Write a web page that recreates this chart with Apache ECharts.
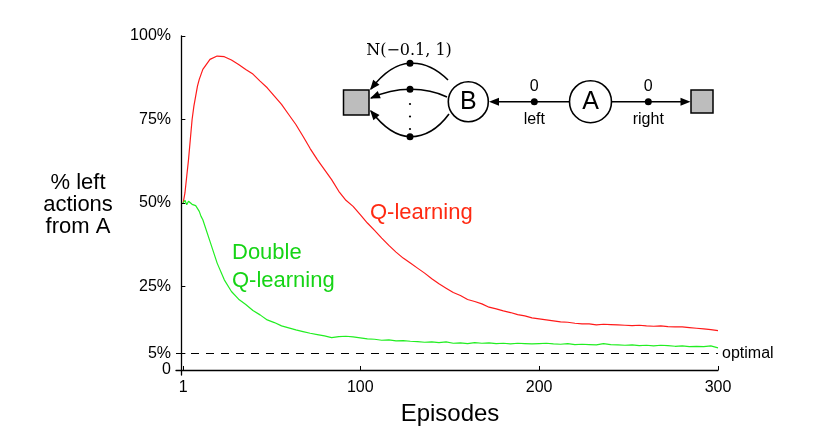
<!DOCTYPE html>
<html>
<head>
<meta charset="utf-8">
<script src="https://cdn.jsdelivr.net/npm/echarts@6/dist/echarts.min.js"></script>
<style>
  html, body { margin: 0; padding: 0; background: #fff; }
  #chart { width: 818px; height: 441px; }
</style>
</head>
<body>
<div id="chart"></div>
<script>
const episodes = [1, 2, 3, 4, 5, 6, 7, 8, 9, 10, 11, 12,
  16, 20, 24, 28, 32, 36, 40, 44, 48, 52, 56, 60, 64, 68, 72, 76, 80, 84, 88, 92, 96, 100,
  104, 108, 112, 116, 120, 124, 128, 132, 136, 140, 144, 148, 152, 156, 160, 164, 168, 172, 176, 180,
  184, 188, 192, 196, 200, 204, 208, 212, 216, 220, 224, 228, 232, 236, 240, 244, 248, 252, 256, 260,
  264, 268, 272, 276, 280, 284, 288, 292, 296, 300]

// % left actions from A
const qLearning = [50, 53, 58, 63, 69, 75, 79, 82, 85, 87, 88.5, 90,
  93, 94, 93.8, 92.8, 91.5, 90, 88.6, 86.5, 84.5, 82, 79.5, 76.5, 73.5, 70, 66.3, 63, 60, 57, 53.5, 50.8, 49, 46.5,
  44, 41.8, 39.5, 37.3, 35.3, 33.5, 32, 30.5, 29, 27.3, 25.8, 24.5, 23.2, 22.3, 21.1, 20.5, 19.8, 18.8, 18.3, 17.7,
  17.2, 16.6, 16.2, 15.6, 15.3, 15.0, 14.7, 14.4, 14.3, 14.0, 13.8, 13.8, 13.5, 13.7, 13.6, 13.5, 13.4, 13.3, 13.4, 13.2,
  13.1, 13.2, 13.0, 12.9, 12.9, 12.7, 12.5, 12.3, 12.1, 11.8]

const doubleQ = [50, 50.8, 49.5, 50.5, 50, 49.6, 49.3, 49.2, 48.8, 47.5, 46, 45,
  38.5, 32, 27, 23.5, 21.2, 19.6, 17.8, 16.5, 15, 14.2, 13.2, 12.6, 12, 11.5, 11, 10.6, 10.2, 9.7, 10, 10.1, 9.9, 9.6,
  9.3, 9.2, 8.9, 9.0, 8.7, 8.8, 8.6, 8.5, 8.3, 8.4, 8.2, 8.4, 8.0, 8.1, 7.9, 8.2, 8.0, 8.1, 7.9, 8.0,
  7.8, 8.0, 7.9, 7.8, 7.9, 8.0, 7.8, 7.7, 7.9, 7.6, 7.7, 7.6, 7.5, 7.9, 7.6, 7.5, 7.4, 7.5, 7.3, 7.4,
  7.2, 7.4, 7.3, 7.1, 7.2, 7.0, 7.1, 7.0, 7.2, 6.6]

const optimal = 5
const xTicks = [1, 100, 200, 300]
const yTicks = [0, 5, 25, 50, 75, 100]

const chart = echarts.init(document.getElementById('chart'))
const font = 'Liberation Sans, Arial, Helvetica, sans-serif'

// small filled arrow head pointing from (fx,fy) to (tx,ty)
function arrowHead(tx, ty, fx, fy) {
  const dx = tx - fx, dy = ty - fy
  const len = Math.sqrt(dx * dx + dy * dy)
  const ux = dx / len, uy = dy / len
  const bx = tx - ux * 10, by = ty - uy * 10
  return {
    type: 'polygon', z: 100,
    shape: { points: [[tx, ty], [bx - uy * 4, by + ux * 4], [bx + uy * 4, by - ux * 4]] },
    style: { fill: '#000' }
  }
}
function dot(x, y, r) {
  return { type: 'circle', z: 100, shape: { cx: x, cy: y, r: r || 3.5 }, style: { fill: '#000' } }
}
function curve(x1, y1, cx, cy, x2, y2) {
  return {
    type: 'bezierCurve', z: 100,
    shape: { x1: x1, y1: y1, cpx1: cx, cpy1: cy, x2: x2, y2: y2 },
    style: { stroke: '#000', lineWidth: 1.6, fill: null }
  }
}
function label(text, x, y, size, color, fam) {
  return {
    type: 'text', z: 100, x: x, y: y,
    style: { text: text, fill: color || '#000', font: size + 'px ' + (fam || font), align: 'center', verticalAlign: 'middle' }
  }
}

// the little MDP diagram
const diagram = [
  // B -> terminal, three of the many actions
  curve(448, 80, 430, 62, 410, 63.3), curve(410, 63.3, 390, 64, 371, 89), arrowHead(370, 90, 388, 68),
  curve(447, 97, 430, 89, 410, 89.3), curve(410, 89.3, 390, 89.5, 371, 98), arrowHead(370, 98.5, 388, 91),
  curve(449, 114, 432, 137, 410, 136.7), curve(410, 136.7, 390, 136, 371, 111), arrowHead(370, 110, 387, 130),
  dot(410, 63.3), dot(410, 89.3), dot(410, 136.7),
  dot(410, 104, 1.1), dot(410, 116.5, 1.1), dot(410, 129, 1.1),
  { type: 'rect', z: 100, shape: { x: 343.5, y: 90, width: 25.5, height: 25 }, style: { fill: '#bdbdbd', stroke: '#000', lineWidth: 1.5 } },
  { type: 'rect', z: 100, shape: { x: 691, y: 90, width: 22, height: 23 }, style: { fill: '#bdbdbd', stroke: '#000', lineWidth: 1.5 } },
  // A -> B (left), A -> terminal (right)
  { type: 'line', z: 100, shape: { x1: 569, y1: 101.7, x2: 495, y2: 101.7 }, style: { stroke: '#000', lineWidth: 1.6 } },
  arrowHead(489, 101.7, 520, 101.7),
  { type: 'line', z: 100, shape: { x1: 612, y1: 101.7, x2: 684, y2: 101.7 }, style: { stroke: '#000', lineWidth: 1.6 } },
  arrowHead(690.5, 101.7, 660, 101.7),
  dot(534.3, 101.7), dot(648.3, 101.7),
  { type: 'circle', z: 100, shape: { cx: 468.3, cy: 101.7, r: 20 }, style: { fill: '#fff', stroke: '#000', lineWidth: 1.6 } },
  { type: 'circle', z: 100, shape: { cx: 590.5, cy: 101.7, r: 21 }, style: { fill: '#fff', stroke: '#000', lineWidth: 1.6 } },
  label('B', 468.3, 102, 25), label('A', 590.5, 102, 25),
  label('0', 534.3, 87, 16), label('left', 534.3, 120, 16),
  label('0', 648.3, 87, 16), label('right', 648.3, 120, 16),
  label('N(\u22120.1, 1)', 409, 51, 16, '#000', 'DejaVu Serif, Liberation Serif, serif')
]

chart.setOption({
  animation: false,
  grid: { left: 176, right: 100, top: 36, bottom: 66 },
  xAxis: {
    type: 'value',
    min: -3,
    max: 300,
    axisLine: { lineStyle: { color: '#000', width: 1.3 } },
    axisTick: { inside: true, length: 4, customValues: xTicks, lineStyle: { color: '#000' } },
    axisLabel: { customValues: xTicks, color: '#000', fontSize: 16, fontFamily: font, margin: 5 },
    splitLine: { show: false }
  },
  yAxis: {
    type: 'value',
    min: -1.5,
    max: 100,
    axisLine: { show: true, lineStyle: { color: '#000', width: 1.3 } },
    axisTick: { show: true, inside: true, length: 4, customValues: yTicks, lineStyle: { color: '#000' } },
    axisLabel: {
      customValues: yTicks, color: '#000', fontSize: 16, fontFamily: font, margin: 5,
      formatter: v => (v === 0 ? '0' : v + '%')
    },
    splitLine: { show: false }
  },
  graphic: [
    label('% left\nactions\nfrom A', 78, 205, 22),
    label('Episodes', 450, 414, 24),
    {
      type: 'text', z: 100, x: 370, y: 213,
      style: { text: 'Q-learning', fill: '#ff2a12', font: '22px ' + font, verticalAlign: 'middle' }
    },
    {
      type: 'text', z: 100, x: 232, y: 267,
      style: { text: 'Double\nQ-learning', fill: '#16d416', font: '22px ' + font, lineHeight: 27.5, verticalAlign: 'middle' }
    }
  ].concat(diagram),
  series: [
    {
      name: 'Q-learning',
      type: 'line',
      data: episodes.map((e, i) => [e, qLearning[i]]),
      showSymbol: false,
      lineStyle: { color: '#ff1a1a', width: 1.2 },
      z: 3
    },
    {
      name: 'Double Q-learning',
      type: 'line',
      data: episodes.map((e, i) => [e, doubleQ[i]]),
      showSymbol: false,
      lineStyle: { color: '#22ee22', width: 1.2 },
      z: 3,
      markLine: {
        silent: true,
        symbol: 'none',
        lineStyle: { color: '#000', type: [8, 7], width: 1 },
        label: { position: 'end', formatter: 'optimal', color: '#000', fontSize: 16, fontFamily: font, distance: 4 },
        data: [{ yAxis: optimal }]
      }
    }
  ]
})
</script>
</body>
</html>
